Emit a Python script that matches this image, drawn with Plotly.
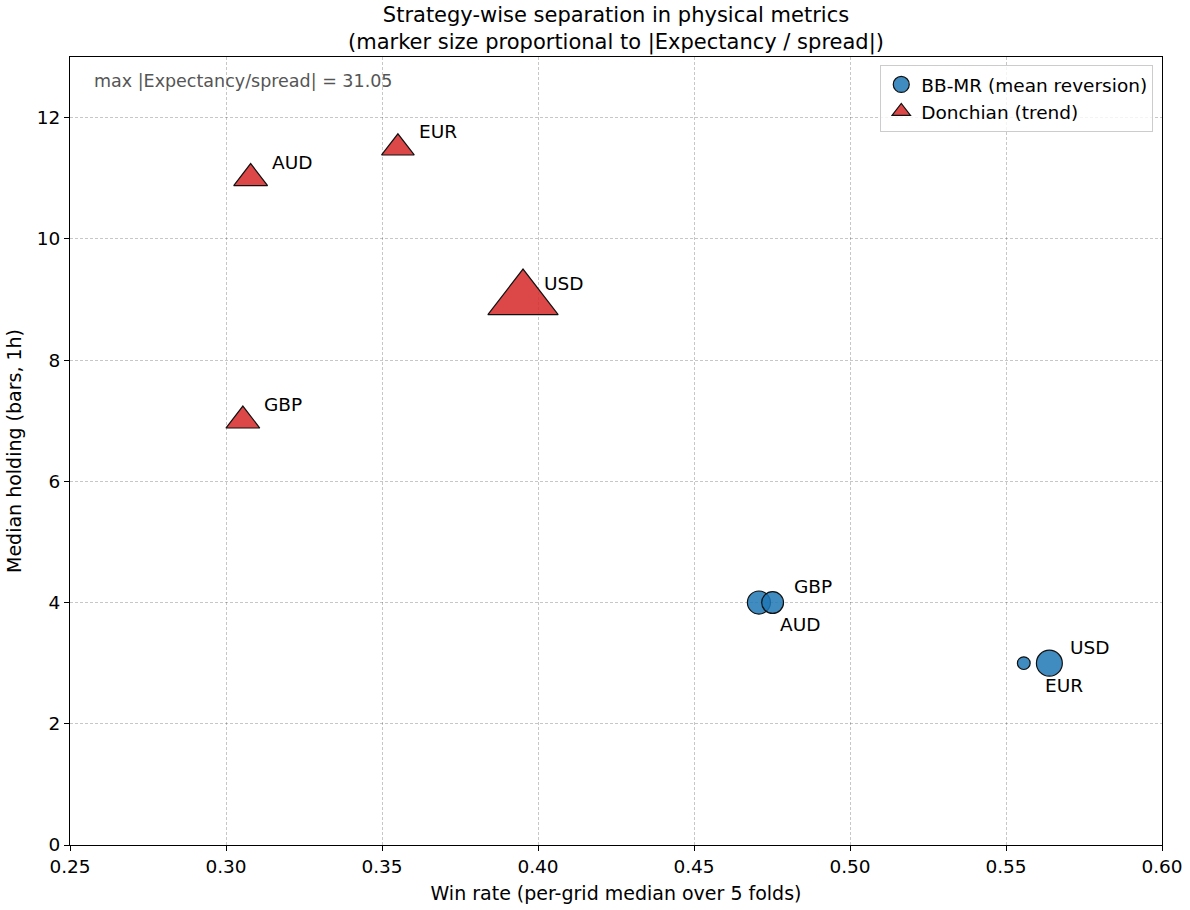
import plotly.graph_objects as go
import numpy as np

# ---- data ----
bb_labels = ["AUD", "GBP", "EUR", "USD"]
bb_win = [0.4708, 0.4752, 0.5557, 0.5639]
bb_hold = [4, 4, 3, 3]
bb_ratio = [4.9, 4.4, 1.5, 6.2]          # |Expectancy / spread|
bb_label_pos = ["below", "above", "below", "above"]

dc_labels = ["AUD", "EUR", "USD", "GBP"]
dc_win = [0.3079, 0.3551, 0.3952, 0.3054]
dc_hold = [11.0, 11.5, 9.0, 7.0]
dc_ratio = [7.2, 6.7, 31.05, 7.2]
dc_label_pos = ["above", "above", "above", "above"]

x_ticks = [0.25, 0.30, 0.35, 0.40, 0.45, 0.50, 0.55, 0.60]
y_ticks = [0, 2, 4, 6, 8, 10, 12]

max_ratio = max(max(bb_ratio), max(dc_ratio))
MAX_D = 58.0  # px for the largest marker


def sizes(vals, factor=1.0):
    return [MAX_D * factor * np.sqrt(v / max_ratio) for v in vals]


BLUE = "rgba(31,119,180,0.85)"
RED = "rgba(214,39,40,0.85)"
FONT = "DejaVu Sans, Verdana, sans-serif"
FS = 18.5

fig = go.Figure()
fig.add_trace(go.Scatter(
    x=bb_win, y=bb_hold, mode="markers", name="BB-MR (mean reversion)",
    marker=dict(symbol="circle", size=sizes(bb_ratio), color=BLUE, opacity=1,
                line=dict(color="#111111", width=1.2)),
))
fig.add_trace(go.Scatter(
    x=dc_win, y=dc_hold, mode="markers", name="Donchian (trend)",
    marker=dict(symbol="triangle-up", size=sizes(dc_ratio, 1.05), color=RED, opacity=1,
                line=dict(color="#111111", width=1.2)),
))

for xs, ys, labs, pos in [(bb_win, bb_hold, bb_labels, bb_label_pos),
                          (dc_win, dc_hold, dc_labels, dc_label_pos)]:
    for xv, yv, lab, p in zip(xs, ys, labs, pos):
        fig.add_annotation(
            x=xv, y=yv, text=lab, showarrow=False, xanchor="left", yanchor="middle",
            xshift=19, yshift=(16 if p == "above" else -22),
            font=dict(size=FS, color="black", family=FONT),
        )

fig.add_annotation(
    xref="paper", yref="paper", x=0.02, y=0.985, xanchor="left", yanchor="top",
    text=f"max |Expectancy/spread| = {max_ratio:.2f}", showarrow=False,
    font=dict(size=17.5, color="#555555", family=FONT),
)

axis_common = dict(
    showline=True, linecolor="black", linewidth=1.2, mirror=True,
    ticks="outside", ticklen=5, tickwidth=1.2, tickcolor="black",
    showgrid=True, gridcolor="rgba(0,0,0,0.22)", griddash="3px,2px", gridwidth=0.8,
    zeroline=False, tickfont=dict(size=FS, color="black", family=FONT),
    automargin=False,
)

fig.update_xaxes(range=[0.25, 0.60], tickvals=x_ticks,
                 ticktext=[f"{t:.2f}" for t in x_ticks],
                 title=dict(text="Win rate (per-grid median over 5 folds)",
                            font=dict(size=19, family=FONT, color="black"), standoff=10),
                 **axis_common)
fig.update_yaxes(range=[0, 13], tickvals=y_ticks,
                 ticktext=[str(t) for t in y_ticks],
                 title=dict(text="Median holding (bars, 1h)",
                            font=dict(size=19, family=FONT, color="black"), standoff=10),
                 **axis_common)

fig.update_layout(
    width=1190, height=910,
    margin=dict(l=70, r=28, t=57, b=65),
    paper_bgcolor="white", plot_bgcolor="white",
    font=dict(family=FONT, color="black"),
    title=dict(
        text="Strategy-wise separation in physical metrics<br>(marker size proportional to |Expectancy / spread|)",
        x=0.5, xref="paper", xanchor="center", y=1 - 22 / 910, yref="container", yanchor="top",
        font=dict(size=21, family=FONT, color="black"),
        automargin=False,
    ),
    legend=dict(
        x=0.992, y=0.99, xanchor="right", yanchor="top",
        bgcolor="rgba(255,255,255,0.8)", bordercolor="#cccccc", borderwidth=1,
        font=dict(size=FS, family=FONT, color="black"),
        itemsizing="trace",
    ),
)

fig.write_html("out.html")
